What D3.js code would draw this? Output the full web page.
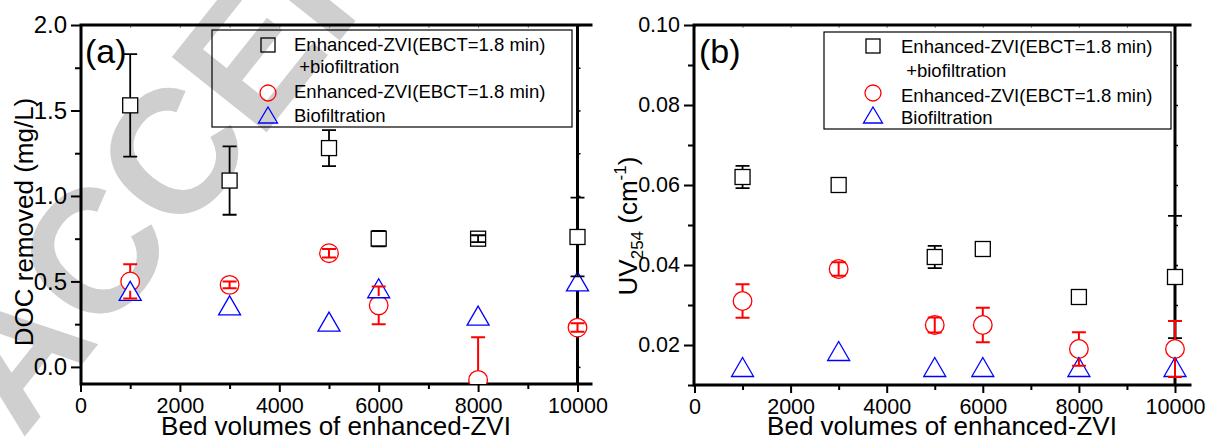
<!DOCTYPE html>
<html>
<head>
<meta charset="utf-8">
<script src="https://cdn.jsdelivr.net/npm/d3@7"></script>
<style>
  body { margin: 0; background: #fff; }
  svg { font-family: "Liberation Sans", Arial, sans-serif; display: block; }
</style>
</head>
<body>
<svg id="chart" width="1209" height="440"></svg>
<script>
// Data
const bedVolumes = [1000, 3000, 5000, 6000, 8000, 10000];
const xTicks = [0, 2000, 4000, 6000, 8000, 10000];
const xMinorTicks = [1000, 3000, 5000, 7000, 9000];

const legendLabels = ["Enhanced-ZVI(EBCT=1.8 min)", " +biofiltration", "Enhanced-ZVI(EBCT=1.8 min)", "Biofiltration"];

// (a) DOC removed
const docCombined = [1.53, 1.09, 1.28, 0.75, 0.75, 0.76];
const docCombinedErr = [0.30, 0.20, 0.105, 0.045, 0.02, 0.23];
const docZvi = [0.50, 0.48, 0.665, 0.36, -0.076, 0.23];
const docZviErr = [0.10, 0.02, 0.025, 0.11, 0.25, 0.025];
const docBio = [0.445, 0.36, 0.265, 0.46, 0.30, 0.50];
const docTicks = [0, 0.5, 1.0, 1.5, 2.0];
const docMinorTicks = [0.25, 0.75, 1.25, 1.75];

// (b) UV254
const uvCombined = [0.062, 0.060, 0.042, 0.044, 0.032, 0.037];
const uvCombinedErr = [0.0028, 0, 0.0028, 0, 0, 0.0153];
const uvZvi = [0.031, 0.039, 0.025, 0.025, 0.019, 0.019];
const uvZviErr = [0.0042, 0.0017, 0.0019, 0.0043, 0.0042, 0.0070];
const uvBio = [0.0145, 0.0185, 0.0145, 0.0145, 0.0145, 0.0145];
const uvTicks = [0.02, 0.04, 0.06, 0.08, 0.10];
const uvMinorTicks = [0.01, 0.03, 0.05, 0.07, 0.09];

const svg = d3.select("#chart");

// Watermark
svg.append("text")
    .attr("transform", "translate(22,440) rotate(-51.5)")
    .attr("font-size", 176)
    .attr("font-weight", "bold")
    .attr("fill", "#cfcfcf")
    .text("ACCEPTED");

const panels = [
    {
        id: "a", tag: "(a)", x0: 80.5, x1: 577.5, left: 81, right: 591, top: 25, bottom: 384,
        yDomain: [-0.1, 2.0], yTicks: docTicks, yMinor: docMinorTicks, yFmt: ".1f", yTickFont: 24,
        combined: docCombined, combinedErr: docCombinedErr, zvi: docZvi, zviErr: docZviErr, bio: docBio,
        legend: { x: 212, y: 30, w: 360, h: 97, sx: 268, tx: 294, rows: [51, 73, 98, 122], sy: [45, 93, 115] },
        tagX: 85
    },
    {
        id: "b", tag: "(b)", x0: 694.5, x1: 1175, left: 694, right: 1190, top: 25, bottom: 385,
        yDomain: [0.01, 0.10], yTicks: uvTicks, yMinor: uvMinorTicks, yFmt: ".2f", yTickFont: 21.5,
        combined: uvCombined, combinedErr: uvCombinedErr, zvi: uvZvi, zviErr: uvZviErr, bio: uvBio,
        legend: { x: 824, y: 32, w: 347, h: 97, sx: 873, tx: 901, rows: [53, 77, 102, 124], sy: [46, 93, 115] },
        tagX: 699
    }
];

function trianglePath(w, h) {
    return `M0,${-h / 2}L${w / 2},${h / 2}L${-w / 2},${h / 2}Z`;
}

function drawPanel(p) {
    const x = d3.scaleLinear().domain([0, 10000]).range([p.x0, p.x1]);
    const y = d3.scaleLinear().domain(p.yDomain).range([p.bottom, p.top]);
    const g = svg.append("g");

    g.append("clipPath").attr("id", "clip-" + p.id)
        .append("rect")
        .attr("x", p.left).attr("y", p.top)
        .attr("width", p.right - p.left).attr("height", p.bottom - p.top);

    // Axes
    const yAxis = g.append("g")
        .attr("transform", `translate(${p.left},0)`)
        .call(d3.axisLeft(y).tickValues(p.yTicks).tickSize(10).tickSizeOuter(0).tickPadding(4).tickFormat(d3.format(p.yFmt)));
    yAxis.append("g")
        .call(d3.axisLeft(y).tickValues(p.yMinor).tickSize(6).tickSizeOuter(0).tickFormat(""))
        .selectAll("text").remove();
    yAxis.selectAll(".domain").remove();
    yAxis.selectAll("line").attr("stroke", "#000").attr("stroke-width", 2);
    yAxis.selectAll("text").attr("font-size", p.yTickFont).attr("fill", "#000").attr("font-family", "Liberation Sans, Arial, sans-serif");

    const xAxis = g.append("g")
        .attr("transform", `translate(0,${p.bottom})`)
        .call(d3.axisBottom(x).tickValues(xTicks).tickSize(8).tickSizeOuter(0).tickPadding(6).tickFormat(d3.format("d")));
    xAxis.append("g")
        .call(d3.axisBottom(x).tickValues(xMinorTicks).tickSize(5).tickSizeOuter(0).tickFormat(""))
        .selectAll("text").remove();
    xAxis.selectAll(".domain").remove();
    xAxis.selectAll("line").attr("stroke", "#000").attr("stroke-width", 2);
    xAxis.selectAll("text").attr("font-size", 21.5).attr("fill", "#000").attr("font-family", "Liberation Sans, Arial, sans-serif");

    // Top axis small ticks
    g.append("g")
        .attr("transform", `translate(0,${p.top})`)
        .call(d3.axisBottom(x).tickValues(xTicks.concat(xMinorTicks)).tickSize(3).tickSizeOuter(0).tickFormat(""))
        .call(s => s.select(".domain").remove())
        .call(s => s.selectAll("text").remove())
        .selectAll("line").attr("stroke", "#888").attr("stroke-width", 1);

    // Right line at x = 10000 with small ticks
    g.append("g")
        .attr("transform", `translate(${x(10000)},0)`)
        .call(d3.axisRight(y).tickValues(p.yTicks.concat(p.yMinor)).tickSize(3).tickSizeOuter(0).tickFormat(""))
        .call(s => s.select(".domain").remove())
        .call(s => s.selectAll("text").remove())
        .selectAll("line").attr("stroke", "#000").attr("stroke-width", 1.5);
    g.append("line")
        .attr("x1", x(10000)).attr("x2", x(10000))
        .attr("y1", p.top).attr("y2", p.bottom)
        .attr("stroke", "#000").attr("stroke-width", 3);

    // Frame
    g.append("path")
        .attr("d", `M${p.right},${p.top}H${p.left}V${p.bottom}H${p.right}`)
        .attr("fill", "none").attr("stroke", "#000").attr("stroke-width", 3)
        .attr("stroke-linecap", "square");

    // Markers
    const plot = g.append("g").attr("clip-path", `url(#clip-${p.id})`);
    const sq = 15, cr = 9.3, tw = 22, th = 19;

    plot.selectAll(".sq").data(p.combined).enter().append("rect")
        .attr("x", (d, i) => x(bedVolumes[i]) - sq / 2)
        .attr("y", d => y(d) - sq / 2)
        .attr("width", sq).attr("height", sq)
        .attr("fill", "#fff").attr("stroke", "#000").attr("stroke-width", 1.3);

    plot.selectAll(".ci").data(p.zvi).enter().append("circle")
        .attr("cx", (d, i) => x(bedVolumes[i]))
        .attr("cy", d => y(d))
        .attr("r", cr)
        .attr("fill", "#fff").attr("stroke", "#ff0000").attr("stroke-width", 1.3);

    plot.selectAll(".tri").data(p.bio).enter().append("path")
        .attr("transform", (d, i) => `translate(${x(bedVolumes[i])},${y(d)})`)
        .attr("d", trianglePath(tw, th))
        .attr("fill", "#fff").attr("stroke", "#0000ff").attr("stroke-width", 1.3);

    // Error bars (gap to symbol)
    function errorBars(values, errs, color, gap, sw) {
        values.forEach((v, i) => {
            const e = errs[i];
            if (!e) return;
            const cx = x(bedVolumes[i]);
            const cy = y(v);
            const yTop = y(v + e), yBot = y(v - e);
            const len = cy - yTop;
            const start = len > gap ? gap : 0;
            plot.append("path")
                .attr("d", `M${cx},${cy - start}V${yTop}M${cx - 7},${yTop}H${cx + 7}` +
                           `M${cx},${cy + start}V${yBot}M${cx - 7},${yBot}H${cx + 7}`)
                .attr("fill", "none").attr("stroke", color).attr("stroke-width", sw);
        });
    }
    errorBars(p.combined, p.combinedErr, "#000", sq / 2, 1.8);
    errorBars(p.zvi, p.zviErr, "#ff0000", cr, 2);

    // Legend
    const L = p.legend;
    g.append("rect")
        .attr("x", L.x).attr("y", L.y).attr("width", L.w).attr("height", L.h)
        .attr("fill", "none").attr("stroke", "#000").attr("stroke-width", 1.2);
    g.append("rect")
        .attr("x", L.sx - 7).attr("y", L.sy[0] - 7).attr("width", 14).attr("height", 14)
        .attr("fill", "none").attr("stroke", "#000").attr("stroke-width", 1.3);
    g.append("circle")
        .attr("cx", L.sx).attr("cy", L.sy[1]).attr("r", 8)
        .attr("fill", "none").attr("stroke", "#ff0000").attr("stroke-width", 1.3);
    g.append("path")
        .attr("transform", `translate(${L.sx},${L.sy[2]})`)
        .attr("d", trianglePath(19, 16))
        .attr("fill", "none").attr("stroke", "#0000ff").attr("stroke-width", 1.3);
    g.selectAll(".leg-text").data(legendLabels).enter().append("text")
        .attr("x", L.tx).attr("y", (d, i) => L.rows[i])
        .attr("font-size", 18.5).attr("fill", "#000")
        .style("white-space", "pre")
        .text(d => d);

    // Panel tag
    g.append("text")
        .attr("x", p.tagX).attr("y", 63)
        .attr("font-size", 34).attr("fill", "#000")
        .text(p.tag);

    // X axis title
    g.append("text")
        .attr("x", (p.left + p.right) / 2).attr("y", 435)
        .attr("text-anchor", "middle")
        .attr("font-size", 26).attr("fill", "#000")
        .text("Bed volumes of enhanced-ZVI");

    return g;
}

const gA = drawPanel(panels[0]);
const gB = drawPanel(panels[1]);

// Y axis titles
gA.append("text")
    .attr("transform", "translate(33,222) rotate(-90)")
    .attr("text-anchor", "middle")
    .attr("font-size", 26).attr("fill", "#000")
    .text("DOC removed (mg/L)");

const uvLabel = gB.append("text")
    .attr("transform", "translate(637,226) rotate(-90)")
    .attr("text-anchor", "middle")
    .attr("font-size", 26).attr("fill", "#000");
uvLabel.append("tspan").text("UV");
uvLabel.append("tspan").attr("font-size", 17).attr("dy", 6).text("254");
uvLabel.append("tspan").attr("dy", -6).text(" (cm");
uvLabel.append("tspan").attr("font-size", 17).attr("dy", -11).text("-1");
uvLabel.append("tspan").attr("dy", 11).text(")");
</script>
</body>
</html>
